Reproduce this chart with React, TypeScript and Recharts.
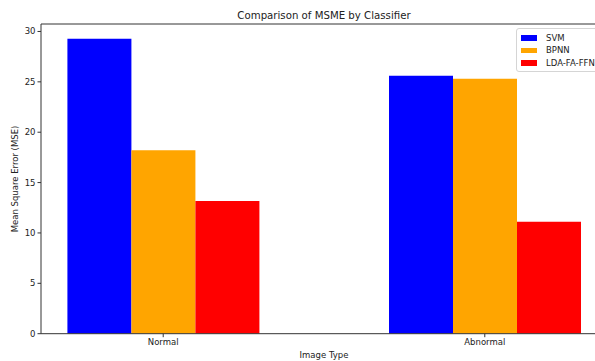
import { Bar, BarChart, ReferenceLine, XAxis, YAxis } from 'recharts';

const categories = ['Normal', 'Abnormal'];
const svm = [29.27, 25.6];
const bpnn = [18.2, 25.3];
const ldaFaFfnn = [13.18, 11.12];

const seriesNames = ['SVM', 'BPNN', 'LDA-FA-FFNN'];
const seriesColors = ['#0000ff', '#ffa500', '#ff0000'];

const data = categories.map((name, i) => ({
  x: i,
  name,
  svm: svm[i],
  bpnn: bpnn[i],
  lda: ldaFaFfnn[i],
}));

const FONT = 'DejaVu Sans, sans-serif';
const Y_MAX = 30.74;

function LegendBox() {
  return (
    <div
      style={{
        position: 'absolute',
        left: 516,
        top: 28,
        width: 88,
        height: 42,
        border: '1px solid #d5d5d5',
        borderRadius: 3,
        background: 'rgba(255,255,255,0.8)',
        fontFamily: FONT,
        fontSize: 8.5,
        color: '#222',
      }}
    >
      {seriesNames.map((n, i) => (
        <div
          key={n}
          style={{ position: 'absolute', left: 4, top: 3 + i * 12.4, height: 12, display: 'flex', alignItems: 'center' }}
        >
          <span style={{ display: 'inline-block', width: 16, height: 5.5, background: seriesColors[i], marginRight: 9 }} />
          <span style={{ whiteSpace: 'nowrap' }}>{n}</span>
        </div>
      ))}
    </div>
  );
}

export default function App() {
  return (
    <div
      style={{
        position: 'fixed',
        left: 0,
        top: 0,
        width: 595,
        height: 361,
        overflow: 'hidden',
        background: '#fff',
      }}
    >
      <BarChart
        width={620}
        height={361}
        data={data}
        margin={{ top: 24, right: 13, bottom: 0, left: 0 }}
        barCategoryGap={65}
        barGap={0}
      >
        <XAxis
          dataKey="x"
          type="number"
          domain={[-0.38, 1.38]}
          ticks={[0, 1]}
          allowDataOverflow
          tickFormatter={(v: number) => categories[v]}
          height={27.3}
          stroke="#333"
          tickLine={{ stroke: '#333' }}
          tickSize={3.5}
          tick={{ fill: '#222', fontSize: 8.5, fontFamily: FONT }}
        />
        <YAxis
          type="number"
          domain={[0, Y_MAX]}
          ticks={[0, 5, 10, 15, 20, 25, 30]}
          allowDataOverflow
          width={41}
          stroke="#333"
          tickSize={3.5}
          tick={{ fill: '#222', fontSize: 8.5, fontFamily: FONT }}
        />
        <ReferenceLine y={Y_MAX} stroke="#333" />
        <Bar dataKey="svm" name="SVM" fill={seriesColors[0]} isAnimationActive={false} />
        <Bar dataKey="bpnn" name="BPNN" fill={seriesColors[1]} isAnimationActive={false} />
        <Bar dataKey="lda" name="LDA-FA-FFNN" fill={seriesColors[2]} isAnimationActive={false} />
      </BarChart>
      <svg
        width={595}
        height={361}
        style={{ position: 'absolute', left: 0, top: 0, pointerEvents: 'none' }}
        fontFamily={FONT}
      >
        <text x={324} y={19} textAnchor="middle" fontSize={10.2} fill="#222">
          Comparison of MSME by Classifier
        </text>
        <text x={324} y={358} textAnchor="middle" fontSize={8.5} fill="#222">
          Image Type
        </text>
        <text
          x={18}
          y={179}
          textAnchor="middle"
          fontSize={8.5}
          fill="#222"
          transform="rotate(-90 18 179)"
        >
          Mean Square Error (MSE)
        </text>
      </svg>
      <LegendBox />
    </div>
  );
}
